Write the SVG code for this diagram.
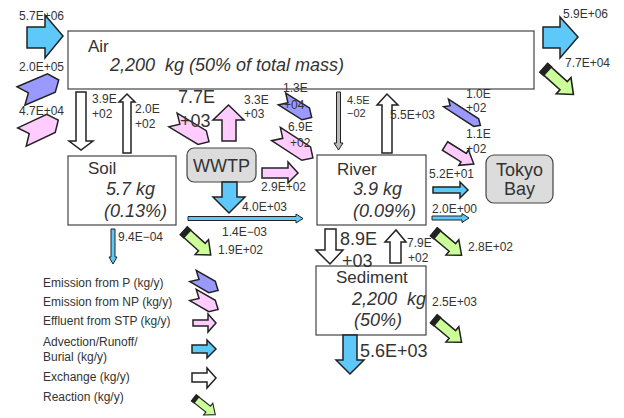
<svg xmlns="http://www.w3.org/2000/svg" width="624" height="418" viewBox="0 0 624 418">
<style>
text{font-family:"Liberation Sans",Arial,sans-serif;fill:#333;white-space:pre}
.lb{font-size:12px}
.sm{font-size:11px}
.big{font-size:18px}
.nm{font-size:17px}
.it{font-size:18px;font-style:italic}
.box{fill:#fff;stroke:#444;stroke-width:1.2}
.gbox{fill:#dcdcdc;stroke:#444;stroke-width:1.2}
.adv{fill:#5ec8f8;stroke:#222;stroke-width:1.5;stroke-linejoin:miter}
.ex{fill:#fff;stroke:#222;stroke-width:1.5}
.stp{fill:#ffccff;stroke:#222;stroke-width:1.5}
.p{fill:#9999ff;stroke:#222;stroke-width:1.5}
.np{fill:#ffccff;stroke:#222;stroke-width:1.5}
.rx{fill:#ccff99;stroke:#222;stroke-width:1.5}
.thin{stroke:#222;stroke-width:1}
</style>
<defs>
<g id="react">
<polygon class="rx" points="0,-5 24,-5 24,-10 36,0 24,10 24,5 0,5"/>
<polygon fill="#222" points="-1,-6 5,-6 5,6 -1,6"/>
</g>
</defs>
<rect width="624" height="418" fill="#fff"/>
<g id="air"><rect class="box" x="68" y="31" width="466" height="58"/>
<text class="nm" x="88" y="52">Air</text>
<text class="it" x="110" y="71">2,200  kg (50% of total mass)</text></g>
<g id="soil"><rect class="box" x="68" y="156" width="108" height="69"/>
<text class="nm" x="88" y="174">Soil</text>
<text class="it" x="106" y="195">5.7 kg</text>
<text class="it" x="104" y="217">(0.13%)</text></g>
<g id="wwtp"><rect class="gbox" x="187" y="148" width="69" height="34" rx="7"/>
<text class="big" x="221.5" y="172" text-anchor="middle">WWTP</text></g>
<g id="river"><rect class="box" x="317" y="155" width="109" height="70"/>
<text class="nm" x="337" y="175">River</text>
<text class="it" x="353" y="195">3.9 kg</text>
<text class="it" x="353" y="217">(0.09%)</text></g>
<g id="sediment"><rect class="box" x="316" y="266" width="110" height="69"/>
<text class="nm" x="336" y="283">Sediment</text>
<text class="it" x="352" y="305">2,200  kg</text>
<text class="it" x="354" y="326">(50%)</text></g>
<g id="tokyobay"><rect class="gbox" x="486" y="155" width="67" height="48" rx="8"/>
<text class="big" x="519.5" y="176" text-anchor="middle">Tokyo</text>
<text class="big" x="519.5" y="195" text-anchor="middle">Bay</text></g>
<g id="connectors">
<polygon class="adv" points="27,27 45,27 45,15 63,36 45,58 45,48 27,48"/>
<polygon class="adv" points="543,27 560,27 560,17 578,37 560,58 560,48 543,48"/>
<polygon class="p" transform="translate(21,96) rotate(-23)" points="0,-10 33,-10 41,0 33,10 0,10 8,0"/>
<polygon class="np" transform="translate(22,137) rotate(-25)" points="0,-10 32,-10 40,0 32,10 0,10 8,0"/>
<polygon class="ex" points="76,92 86,92 86,141 93,141 81,150 69,141 76,141"/>
<polygon class="ex" points="123,153 123,102 119,102 127,94 135,102 131,102 131,153"/>
<polygon class="np" transform="translate(173,120) rotate(31)" points="0,-8 34,-8 42,0 34,8 0,8 8,0"/>
<polygon class="stp" points="222,141 222,120 213,120 228.5,105 244,120 236,120 236,141"/>
<polygon class="p" transform="translate(282,99) rotate(32)" points="0,-7 28,-7 35,0 28,7 0,7 7,0"/>
<polygon class="np" transform="translate(276,134) rotate(33)" points="0,-8 36,-8 44,0 36,8 0,8 8,0"/>
<polygon class="stp" points="262,168 288,168 288,162 298,173 288,183 288,178 262,178"/>
<polygon class="adv" points="222,182 237,182 237,197 245,197 229,213 213,197 222,197"/>
<polygon class="adv thin" points="188,216.5 296,216.5 296,214 303,218.5 296,223 296,220.5 188,220.5"/>
<use href="#react" transform="translate(184,231) rotate(42)"/>
<polygon class="adv thin" points="111,229 115,229 115,257 117,257 113,264 109,257 111,257"/>
<polygon class="thin" fill="#bbb" points="336.5,92 340.5,92 340.5,143 343,143 338.5,150 334,143 336.5,143"/>
<polygon class="ex" points="382,153 382,105 377,105 387,94 398,105 392,105 392,153"/>
<polygon class="p" transform="translate(446,103) rotate(33)" points="0,-4.5 36,-4.5 41,0 36,4.5 0,4.5 5,0"/>
<polygon class="stp" transform="translate(445,146) rotate(32)" points="0,-5 22,-5 22,-9 34,0 22,9 22,5 0,5"/>
<polygon class="adv" points="433,187 460,187 460,182 468,190 460,198 460,193 433,193"/>
<polygon class="adv thin" points="432,216 462,216 462,213.5 469,218 462,222.5 462,220 432,220"/>
<use href="#react" transform="translate(544,68) rotate(42) scale(1.1)"/>
<use href="#react" transform="translate(434,232) rotate(40)"/>
<polygon class="ex" points="325,229 336,229 336,250 343,250 330,264 316,250 325,250"/>
<polygon class="ex" points="390,263 390,242 385,242 396,230 406,242 401,242 401,263"/>
<use href="#react" transform="translate(434,319) rotate(40)"/>
<polygon class="adv" points="343,335 357,335 357,360 364,360 350,374 336,360 343,360"/>
</g>
<g id="labels">
<text class="lb" x="19" y="20">5.7E+06</text>
<text class="lb" x="19" y="71">2.0E+05</text>
<text class="lb" x="19" y="115">4.7E+04</text>
<text class="lb" x="92" y="103">3.9E</text>
<text class="lb" x="92" y="118">+02</text>
<text class="lb" x="135" y="113">2.0E</text>
<text class="lb" x="135" y="128">+02</text>
<text class="big" x="178" y="103">7.7E</text>
<text class="big" x="180" y="127">+03</text>
<text class="lb" x="244" y="104">3.3E</text>
<text class="lb" x="244" y="118">+03</text>
<text class="lb" x="283" y="92">1.3E</text>
<text class="lb" x="284" y="109">+04</text>
<text class="lb" x="288" y="131">6.9E</text>
<text class="lb" x="290" y="147">+02</text>
<text class="lb" x="261" y="191">2.9E+02</text>
<text class="lb" x="242" y="211">4.0E+03</text>
<text class="lb" x="222" y="236">1.4E−03</text>
<text class="lb" x="218" y="254">1.9E+02</text>
<text class="lb" x="118" y="241">9.4E−04</text>
<text class="sm" x="347" y="104">4.5E</text>
<text class="sm" x="347" y="117">−02</text>
<text class="lb" x="390" y="119">5.5E+03</text>
<text class="lb" x="466" y="98">1.0E</text>
<text class="lb" x="466" y="112">+02</text>
<text class="lb" x="466" y="138">1.1E</text>
<text class="lb" x="466" y="153">+02</text>
<text class="lb" x="429" y="178">5.2E+01</text>
<text class="lb" x="432" y="213">2.0E+00</text>
<text class="lb" x="563" y="18">5.9E+06</text>
<text class="lb" x="565" y="67">7.7E+04</text>
<text class="lb" x="468" y="251">2.8E+02</text>
<text class="big" x="340" y="245">8.9E</text>
<text class="big" x="342" y="267">+03</text>
<text class="lb" x="407" y="247">7.9E</text>
<text class="lb" x="408" y="262">+02</text>
<text class="lb" x="432" y="306">2.5E+03</text>
<text class="big" x="360" y="357">5.6E+03</text>
</g>
<g id="legend">
<text class="lb" x="43" y="287">Emission from P (kg/y)</text>
<text class="lb" x="43" y="306">Emission from NP (kg/y)</text>
<text class="lb" x="43" y="325">Effluent from STP (kg/y)</text>
<text class="lb" x="43" y="346">Advection/Runoff/</text>
<text class="lb" x="43" y="361">Burial (kg/y)</text>
<text class="lb" x="43" y="381">Exchange (kg/y)</text>
<text class="lb" x="43" y="401">Reaction (kg/y)</text>
<polygon class="p" transform="translate(193,276) rotate(30)" points="0,-6.5 22,-6.5 29,0 22,6.5 0,6.5 7,0"/>
<polygon class="np" transform="translate(193,295) rotate(30)" points="0,-6.5 22,-6.5 29,0 22,6.5 0,6.5 7,0"/>
<polygon class="stp" points="193,320 208,320 208,314 216,323 208,332 208,326 193,326"/>
<polygon class="adv" points="192,345 207,345 207,340 216,349 207,358 207,353 192,353"/>
<polygon class="ex" points="192,373 207,373 207,368 216,378 207,388 207,382 192,382"/>
<use href="#react" transform="translate(194,398) rotate(38) scale(0.75)"/>
</g>
</svg>
